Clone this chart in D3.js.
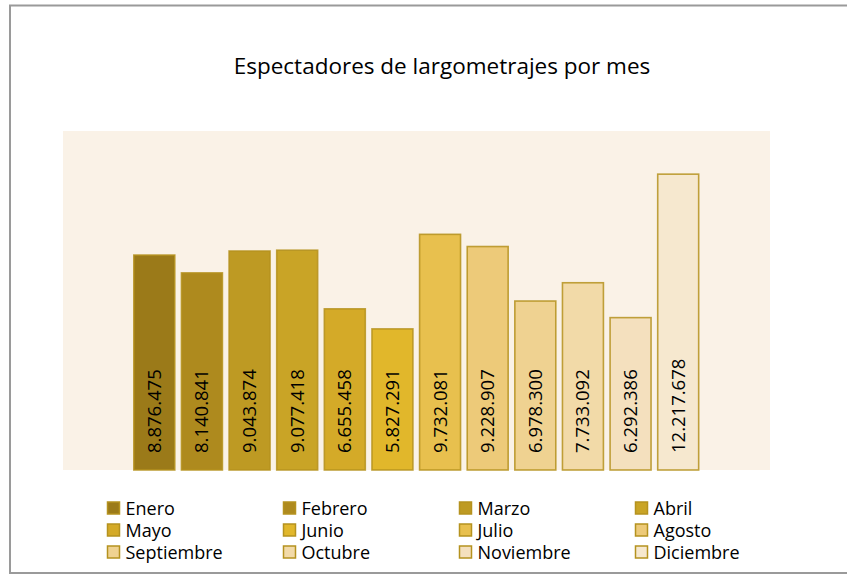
<!DOCTYPE html>
<meta charset="utf-8">
<script src="https://cdn.jsdelivr.net/npm/d3@7"></script>
<style>
  body { margin: 0; background: #fff; }
  text { font-family: "Open Sans", sans-serif; fill: #000; }
</style>
<div id="chart"></div>
<script>
  // data
  const months = ["Enero", "Febrero", "Marzo", "Abril", "Mayo", "Junio",
    "Julio", "Agosto", "Septiembre", "Octubre", "Noviembre", "Diciembre"];
  const viewers = [8876475, 8140841, 9043874, 9077418, 6655458, 5827291,
    9732081, 9228907, 6978300, 7733092, 6292386, 12217678];
  const colors = ["#9b7a19", "#ae8a1e", "#be9a23", "#c9a426", "#d4aa28", "#e1b72b",
    "#e8c04e", "#edca79", "#efd291", "#f2daa8", "#f4e0be", "#f6e8cf"];

  const W = 847, H = 577;
  const plot = { left: 63, top: 131, right: 770, bottom: 470 };

  const svg = d3.select("#chart").append("svg")
    .attr("width", W).attr("height", H);

  // chart frame
  svg.append("rect")
    .attr("x", 10).attr("y", 5.5)
    .attr("width", 850).attr("height", 567.5)
    .attr("fill", "#fff").attr("stroke", "#9a9a9a").attr("stroke-width", 2);

  svg.append("text")
    .attr("x", 442).attr("y", 74)
    .attr("text-anchor", "middle")
    .style("font-size", "22.5px")
    .text("Espectadores de largometrajes por mes");

  // plot area background
  svg.append("rect")
    .attr("x", plot.left).attr("y", plot.top)
    .attr("width", plot.right - plot.left).attr("height", plot.bottom - plot.top)
    .attr("fill", "#faf2e7");

  const x = d3.scaleBand()
    .domain(months)
    .range([130.5, 702])
    .paddingInner(0.14)
    .paddingOuter(0.07);

  const y = d3.scaleLinear()
    .domain([0, 14000000])
    .range([plot.bottom, plot.top]);

  const fmt = d3.formatLocale({ decimal: ",", thousands: ".", grouping: [3], currency: ["", ""] }).format(",d");

  const bars = svg.append("g");
  bars.selectAll("rect")
    .data(months)
    .join("rect")
    .attr("x", d => x(d))
    .attr("y", (d, i) => y(viewers[i]))
    .attr("width", x.bandwidth())
    .attr("height", (d, i) => y(0) - y(viewers[i]))
    .attr("fill", (d, i) => colors[i])
    .attr("stroke", "#b5921f")
    .attr("stroke-opacity", 0.85)
    .attr("stroke-width", 1.6);

  // labels, inside base, rotated
  bars.selectAll("text")
    .data(months)
    .join("text")
    .attr("transform", d => `translate(${x(d) + x.bandwidth() / 2 + 6.5}, ${y(0) - 17}) rotate(-90)`)
    .style("font-size", "18.5px")
    .text((d, i) => fmt(viewers[i]));

  // legend, 4 columns x 3 rows
  const legend = svg.append("g");
  const item = legend.selectAll("g")
    .data(months)
    .join("g")
    .attr("transform", (d, i) => `translate(${107.5 + (i % 4) * 176}, ${508 + Math.floor(i / 4) * 22})`);

  item.append("rect")
    .attr("x", 0).attr("y", -6)
    .attr("width", 12).attr("height", 12)
    .attr("fill", (d, i) => colors[i])
    .attr("stroke", "#b5921f")
    .attr("stroke-width", 1.5);

  item.append("text")
    .attr("x", 18).attr("y", 6.5)
    .style("font-size", "18px")
    .text(d => d);
</script>
